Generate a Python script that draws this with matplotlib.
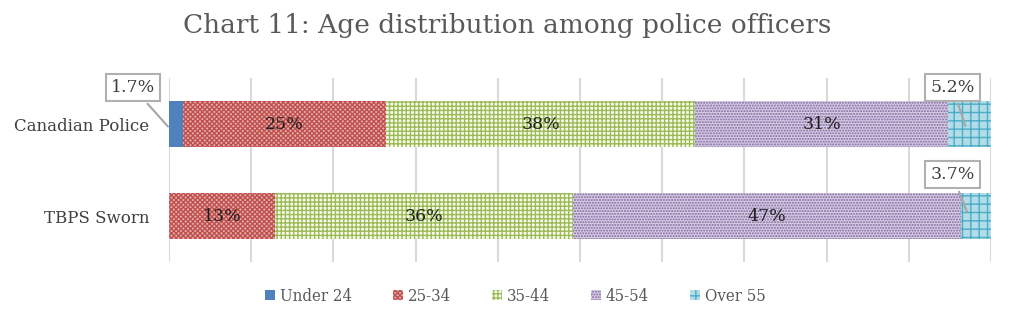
import numpy as np
import matplotlib.pyplot as plt
from matplotlib.patches import Patch

plt.rcParams['font.family'] = ['DejaVu Serif']
plt.rcParams['hatch.linewidth'] = 1.0

# données
groups = ['Canadian Police', 'TBPS Sworn']
age_bins = ['Under 24', '25-34', '35-44', '45-54', 'Over 55']
under24 = [1.7, 0.0]
age25_34 = [24.7, 12.9]
age35_44 = [37.6, 36.2]
age45_54 = [30.8, 47.2]
over55 = [5.2, 3.7]
series = [under24, age25_34, age35_44, age45_54, over55]

colors = ['#4F81BD', '#C0504D', '#9BBB59', '#8064A2', '#4BACC6']
faces = ['#4F81BD', '#e2aeac', '#f8fbea', '#d8cfe3', '#b2dce8']
hatches = [None, 'xxxxxxx', '++++', '......', '++']

fig = plt.figure(figsize=(10.14, 3.28), dpi=100)
ax = fig.add_axes([0.1667, 0.201, 0.8106, 0.561])

y = np.arange(len(groups))
left = np.zeros(len(groups))
for i, vals in enumerate(series):
    vals = np.array(vals)
    if hatches[i] is None:
        ax.barh(y, vals, left=left, height=0.5, color=colors[i], zorder=3)
    else:
        ax.barh(y, vals, left=left, height=0.5, facecolor=faces[i],
                edgecolor=colors[i], hatch=hatches[i], linewidth=0, zorder=3)
    # étiquettes au centre pour les grands segments
    for j, v in enumerate(vals):
        if v >= 10:
            ax.text(left[j] + v / 2, y[j], f'{v:.0f}%', ha='center', va='center',
                    fontsize=12.5, color='#1f1f1f', zorder=5)
    left += vals

# bulles pour les petits segments
box = dict(boxstyle='square,pad=0.3', fc='white', ec='#b0b0b0', lw=1.5)
arrow = dict(arrowstyle='-', color='#a6a6a6', lw=1.5)
ax.annotate(f'{under24[0]:.1f}%', xy=(0.1, 0.05), xytext=(-4.4, -0.40),
            ha='center', va='center', fontsize=12.5, color='#404040',
            bbox=box, arrowprops=arrow, annotation_clip=False, zorder=6)
ax.annotate(f'{over55[0]:.1f}%', xy=(97.0, 0.05), xytext=(95.3, -0.40),
            ha='center', va='center', fontsize=12.5, color='#404040',
            bbox=box, arrowprops=arrow, annotation_clip=False, zorder=6)
ax.annotate(f'{over55[1]:.1f}%', xy=(97.2, 0.98), xytext=(95.3, 0.55),
            ha='center', va='center', fontsize=12.5, color='#404040',
            bbox=box, arrowprops=arrow, annotation_clip=False, zorder=6)

ax.set_xlim(0, 100)
ax.set_ylim(1.5, -0.5)
ax.set_xticks(np.arange(0, 101, 10))
ax.set_xticklabels([])
ax.tick_params(axis='x', length=0)
ax.tick_params(axis='y', length=0, labelsize=12, labelcolor='#404040', pad=14)
ax.set_yticks(y)
ax.set_yticklabels(groups)
ax.grid(axis='x', color='#d9d9d9', lw=1.5, zorder=0)
for s in ax.spines.values():
    s.set_visible(False)

fig.suptitle('Chart 11: Age distribution among police officers', x=0.5, y=0.96,
             fontsize=19, color='#595959')

handles = []
for i, lab in enumerate(age_bins):
    if hatches[i] is None:
        handles.append(Patch(facecolor=colors[i], label=lab))
    else:
        handles.append(Patch(facecolor=faces[i], edgecolor=colors[i],
                             hatch=hatches[i], linewidth=0, label=lab))
fig.legend(handles=handles, loc='center', bbox_to_anchor=(0.508, 0.097), ncol=5,
           frameon=False, prop={'family': 'DejaVu Serif', 'stretch': 'condensed', 'size': 12},
           labelcolor='#595959', handlelength=0.6,
           handleheight=0.6, handletextpad=0.3, columnspacing=2.45)

fig.savefig('out.png', dpi=100)
